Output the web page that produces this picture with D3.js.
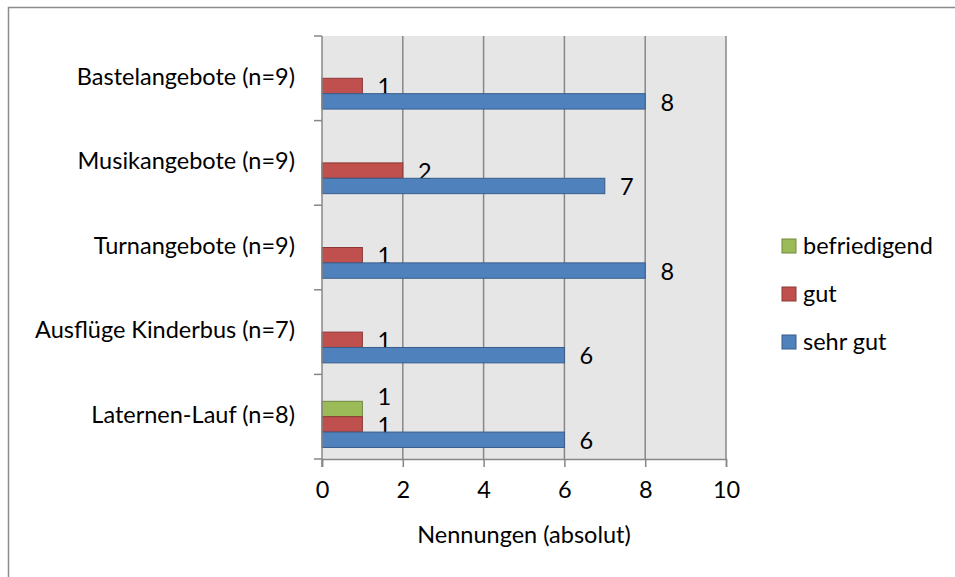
<!DOCTYPE html>
<html>
<head>
<meta charset="utf-8">
<script src="https://cdn.jsdelivr.net/npm/d3@7"></script>
<style>
  body { margin: 0; background: #fff; }
  svg text { font-family: Lato, "Open Sans", sans-serif; fill: #000; }
</style>
</head>
<body>
<script>
// categories, top to bottom
var categories = ["Bastelangebote (n=9)", "Musikangebote (n=9)", "Turnangebote (n=9)",
                  "Ausflüge Kinderbus (n=7)", "Laternen-Lauf (n=8)"];

// series (legend order) and values per category
var series = ["befriedigend", "gut", "sehr gut"];
var befriedigend = [0, 0, 0, 0, 1];
var gut          = [1, 2, 1, 1, 1];
var sehrGut      = [8, 7, 8, 6, 6];
var xTicks = [0, 2, 4, 6, 8, 10];

var values = { "befriedigend": befriedigend, "gut": gut, "sehr gut": sehrGut };
var colors = { "befriedigend": "#9BBB59", "gut": "#C0504D", "sehr gut": "#4F81BD" };
var strokes = { "befriedigend": "#71893F", "gut": "#8C3836", "sehr gut": "#385D8A" };
// the chart keeps an empty (unused) slot above the three series
var slots = ["", "befriedigend", "gut", "sehr gut"];

var W = 955, H = 577;
var fs = 23.5;
var margin = {top: 36, left: 322, right: 229, bottom: 118};
var width = W - margin.left - margin.right,
    height = H - margin.top - margin.bottom;

var svg = d3.select("body").append("svg")
    .attr("width", W)
    .attr("height", H);

// outer frame
svg.append("rect")
    .attr("x", 8.5).attr("y", 7.5)
    .attr("width", W + 20).attr("height", H + 20)
    .attr("fill", "none")
    .attr("stroke", "#8c8c8c")
    .attr("stroke-width", 1.5);

var g = svg.append("g")
    .attr("transform", "translate(" + margin.left + "," + margin.top + ")");

var x = d3.scaleLinear().domain([0, 10]).range([0, width]);
var y = d3.scaleBand().domain(categories).range([0, height]).padding(0);
var yIn = d3.scaleBand().domain(slots).range([0, y.bandwidth()])
    .paddingInner(0).paddingOuter(0.75);

// plot background
g.append("rect")
    .attr("width", width).attr("height", height)
    .attr("fill", "#E6E6E6");

// grid lines
g.selectAll(".grid")
    .data(xTicks.slice(1))
  .enter().append("line")
    .attr("x1", function(d) { return x(d); })
    .attr("x2", function(d) { return x(d); })
    .attr("y1", 0).attr("y2", height)
    .attr("stroke", "#878787")
    .attr("stroke-width", 1.5);

// bars
var groups = g.selectAll(".cat")
    .data(categories)
  .enter().append("g")
    .attr("transform", function(d) { return "translate(0," + y(d) + ")"; });

groups.each(function(cat, i) {
  var grp = d3.select(this);
  series.forEach(function(s) {
    var v = values[s][i];
    if (v > 0) {
      grp.append("rect")
          .attr("x", x(0))
          .attr("y", yIn(s))
          .attr("width", x(v) - x(0))
          .attr("height", yIn.bandwidth())
          .attr("fill", colors[s])
          .attr("stroke", strokes[s])
          .attr("stroke-width", 1);
      grp.append("text")
          .attr("x", x(v) + 22)
          .attr("y", yIn(s) + yIn.bandwidth() / 2 + (s == "befriedigend" ? -12 : 1))
          .attr("dy", "0.35em")
          .attr("text-anchor", "middle")
          .attr("font-size", fs)
          .text(v);
    }
  });
});

// y axis
g.append("line")
    .attr("x1", 0).attr("x2", 0).attr("y1", 0).attr("y2", height + 8)
    .attr("stroke", "#878787").attr("stroke-width", 1.5);
g.selectAll(".ytick")
    .data(d3.range(categories.length + 1))
  .enter().append("line")
    .attr("x1", -8).attr("x2", 0)
    .attr("y1", function(d) { return d * y.step(); })
    .attr("y2", function(d) { return d * y.step(); })
    .attr("stroke", "#878787").attr("stroke-width", 1.5);
g.selectAll(".ylab")
    .data(categories)
  .enter().append("text")
    .attr("x", -27)
    .attr("y", function(d) { return y(d) + y.bandwidth() / 2 - 2; })
    .attr("dy", "0.35em")
    .attr("text-anchor", "end")
    .attr("font-size", fs)
    .text(function(d) { return d; });

// x axis
var gx = g.append("g")
    .attr("transform", "translate(0," + height + ")")
    .call(d3.axisBottom(x).tickValues(xTicks).tickSize(8).tickPadding(14));
gx.select(".domain").attr("stroke", "#878787").attr("stroke-width", 1.5);
gx.selectAll(".tick line").attr("stroke", "#878787").attr("stroke-width", 1.5);
gx.selectAll(".tick text").attr("font-size", fs).style("font-family", "Lato, sans-serif");

g.append("text")
    .attr("x", width / 2)
    .attr("y", height + 84)
    .attr("text-anchor", "middle")
    .attr("font-size", fs)
    .text("Nennungen (absolut)");

// legend
var legend = svg.append("g")
    .attr("transform", "translate(782,246)");
var li = legend.selectAll(".li")
    .data(series)
  .enter().append("g")
    .attr("transform", function(d, i) { return "translate(0," + i * 48 + ")"; });
li.append("rect")
    .attr("x", 0).attr("y", -7)
    .attr("width", 14).attr("height", 14)
    .attr("fill", function(d) { return colors[d]; })
    .attr("stroke", function(d) { return strokes[d]; });
li.append("text")
    .attr("x", 21).attr("y", 0)
    .attr("dy", "0.35em")
    .attr("font-size", fs)
    .text(function(d) { return d; });
</script>
</body>
</html>
